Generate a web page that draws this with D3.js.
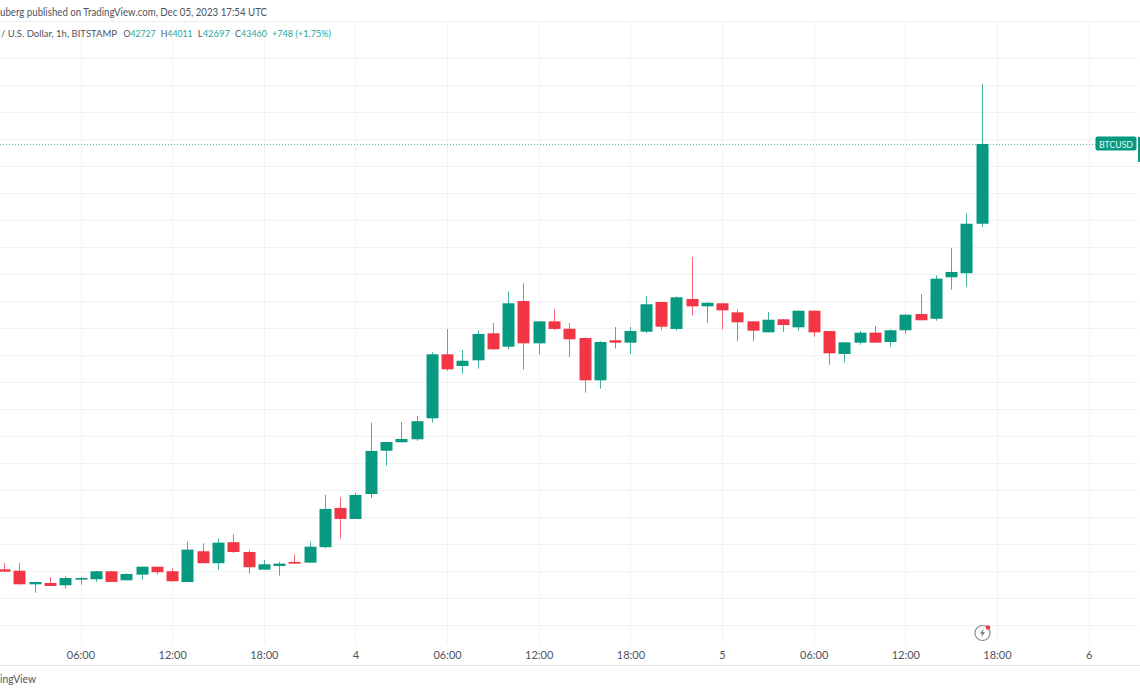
<!DOCTYPE html>
<html>
<head>
<meta charset="utf-8">
<script src="https://cdn.jsdelivr.net/npm/d3@7/dist/d3.min.js"></script>
<style>
html,body{margin:0;padding:0;background:#fff;overflow:hidden}
svg{display:block}
text{font-family:"Lato","Noto Sans",sans-serif}
</style>
</head>
<body>
<svg id="chart" width="1140" height="694"></svg>
<script>
const startTime = "2023-12-03T01:00:00Z";
const opens = [39551,39538,39413,39425,39404,39456,39460,39533,39450,39502,39575,39533,39434,39717,39607,39800,39710,39548,39582,39619,39612,39754,40115,40014,40243,40641,40719,40746,40939,41527,41420,41472,41720,41597,42017,41628,41830,41762,41677,41288,41656,41634,41735,42008,41760,42035,41968,41996,41913,41830,41729,41849,41775,41928,41741,41530,41634,41726,41640,41748,41897,41854,42235,42272,42727];
const highs = [39609,39609,39439,39478,39487,39483,39536,39536,39515,39575,39575,39561,39805,39790,39833,39873,39726,39637,39619,39686,39805,40234,40213,40255,40899,40721,40905,40960,41546,41760,41567,41748,41815,42106,42180,41830,41941,41815,41683,41647,41778,41778,42060,42008,42060,42421,42008,41996,41941,41830,41916,41849,41928,41928,41741,41637,41741,41787,41757,41897,42081,42253,42504,42823,44011];
const lows = [39526,39411,39336,39398,39373,39410,39435,39435,39450,39456,39502,39441,39434,39607,39545,39701,39511,39545,39493,39603,39612,39744,39833,40014,40207,40504,40716,40731,40899,41376,41349,41395,41567,41573,41386,41527,41751,41500,41174,41211,41579,41530,41720,41751,41744,41885,41817,41757,41647,41647,41729,41732,41744,41689,41432,41454,41615,41634,41597,41716,41840,41836,42121,42148,42697];
const closes = [39529,39413,39434,39398,39471,39471,39533,39435,39508,39575,39524,39441,39732,39607,39796,39710,39570,39597,39603,39603,39759,40106,40014,40234,40639,40721,40749,40912,41527,41389,41468,41714,41573,41996,41628,41830,41760,41665,41288,41640,41634,41741,41987,41781,42051,41968,42001,41931,41821,41744,41845,41796,41928,41729,41536,41637,41726,41634,41748,41891,41840,42222,42284,42727,43460];
const timeTicks = ["2023-12-03T06:00:00Z","2023-12-03T12:00:00Z","2023-12-03T18:00:00Z","2023-12-04T00:00:00Z","2023-12-04T06:00:00Z","2023-12-04T12:00:00Z","2023-12-04T18:00:00Z","2023-12-05T00:00:00Z","2023-12-05T06:00:00Z","2023-12-05T12:00:00Z","2023-12-05T18:00:00Z","2023-12-06T00:00:00Z"];
const timeLabels = ["06:00","12:00","18:00","4","06:00","12:00","18:00","5","06:00","12:00","18:00","6"];
const priceGrid = [44248,44000,43752,43504,43256,43008,42760,42512,42264,42016,41768,41520,41272,41024,40776,40528,40280,40032,39784,39536,39288,39040];
const lastClose = 43460;
const headerTop = "uberg published on TradingView.com, Dec 05, 2023 17:54 UTC";
const symbolText = "/ U.S. Dollar, 1h, BITSTAMP";
const ohlcLabels = ["O","H","L","C"];
const ohlcValues = ["42727","44011","42697","43460"];
const changeText = "+748 (+1.75%)";
const brandText = "ingView";

const UP = "#089981", DOWN = "#f23645", GRID = "#f2f4f4", TXT = "#50535e", SOFT = "#26a69a";
const svg = d3.select("#chart");
const times = opens.map((_, i) => d3.utcHour.offset(new Date(startTime), i));

const x = d3.scaleUtc()
  .domain([new Date("2023-12-03T06:00:00Z"), new Date("2023-12-05T18:00:00Z")])
  .range([80.5, 997]);
const y = d3.scaleLinear().domain([44000, 39000]).range([85.25, 629.25]);

const gy = svg.append("g").attr("transform","translate(1138,0)")
  .call(d3.axisLeft(y).tickValues(priceGrid).tickSize(1138).tickFormat(""));
gy.select(".domain").remove();
gy.selectAll("line").attr("stroke",GRID).attr("shape-rendering","crispEdges");

const gx = svg.append("g").attr("transform","translate(0,644)")
  .call(d3.axisTop(x).tickValues(timeTicks.map(d=>new Date(d))).tickSize(622).tickFormat(""));
gx.select(".domain").remove();
gx.selectAll("line").attr("stroke",GRID).attr("shape-rendering","crispEdges");

svg.append("line").attr("x1",0).attr("x2",1140).attr("y1",21.5).attr("y2",21.5).attr("stroke","#eceeef");
svg.append("line").attr("x1",0).attr("x2",1140).attr("y1",665.5).attr("y2",665.5).attr("stroke","#e4e7e9");

svg.append("line").attr("x1",0).attr("x2",1096)
  .attr("y1",Math.round(y(lastClose))+.5).attr("y2",Math.round(y(lastClose))+.5)
  .attr("stroke",UP).attr("stroke-dasharray","1 2").attr("opacity",.65);

const data = times.map((t,i)=>({t,o:opens[i],h:highs[i],l:lows[i],c:closes[i]}));
const col = d => d.c >= d.o ? UP : DOWN;
const candles = svg.append("g").selectAll("g").data(data).join("g");
candles.append("line")
  .attr("x1",d=>Math.round(x(d.t))+.5).attr("x2",d=>Math.round(x(d.t))+.5)
  .attr("y1",d=>y(d.h)).attr("y2",d=>y(d.l))
  .attr("stroke",col).attr("stroke-width",1).attr("opacity",.75);
candles.append("rect")
  .attr("x",d=>Math.round(x(d.t))-5.5).attr("width",12)
  .attr("y",d=>y(Math.max(d.o,d.c))).attr("height",d=>Math.max(1,Math.abs(y(d.o)-y(d.c))))
  .attr("fill",col);

const ax = svg.append("g").attr("transform","translate(0,645)")
  .call(d3.axisBottom(x).tickValues(timeTicks.map(d=>new Date(d))).tickSize(0).tickPadding(6)
    .tickFormat((d,i)=>timeLabels[i]));
ax.select(".domain").remove();
ax.selectAll("text").attr("font-family",'"Lato","Noto Sans",sans-serif').attr("font-size",11).attr("fill",TXT);

svg.append("text").attr("x",0).attr("y",16).attr("font-size",11).attr("fill",TXT).text(headerTop)
  .attr("textLength",267).attr("lengthAdjust","spacingAndGlyphs");
svg.append("text").attr("x",1).attr("y",37).attr("font-size",10).attr("fill",TXT).text(symbolText)
  .attr("textLength",116).attr("lengthAdjust","spacingAndGlyphs");
const ohlcX = d3.scalePoint().domain(ohlcLabels).range([123.5,235]);
ohlcLabels.forEach((k,i)=>{
  const t = svg.append("text").attr("x",ohlcX(k)).attr("y",37).attr("font-size",10).attr("fill",TXT)
    .attr("textLength",32).attr("lengthAdjust","spacingAndGlyphs");
  t.append("tspan").text(k);
  t.append("tspan").attr("fill",SOFT).text(ohlcValues[i]);
});
svg.append("text").attr("x",272).attr("y",37).attr("font-size",10).attr("fill",SOFT).text(changeText)
  .attr("textLength",59).attr("lengthAdjust","spacingAndGlyphs");
svg.append("text").attr("x",0).attr("y",683).attr("font-size",11).attr("fill",TXT).text(brandText)
  .attr("textLength",36).attr("lengthAdjust","spacingAndGlyphs");

svg.append("rect").attr("x",1095.5).attr("y",136.5).attr("width",41).attr("height",14).attr("rx",2).attr("fill",UP);
svg.append("text").attr("x",1099).attr("y",147.5).attr("font-size",10).attr("fill","#e6f5f2").text("BTCUSD")
  .attr("textLength",34).attr("lengthAdjust","spacingAndGlyphs");
svg.append("rect").attr("x",1138).attr("y",137).attr("width",2).attr("height",25).attr("fill",UP);

const ic = svg.append("g").attr("transform","translate(982.5,633)");
ic.append("circle").attr("r",7.5).attr("fill","#fff").attr("stroke","#8a8d96").attr("stroke-width",1.2);
ic.append("path").attr("d","M1.5,-4.5 L-2.5,0.8 L0,0.8 L-1.5,4.5 L2.5,-0.8 L0,-0.8 Z").attr("fill","#6a6d78");
ic.append("circle").attr("cx",5.5).attr("cy",-5.5).attr("r",2.2).attr("fill",DOWN);
</script>
</body>
</html>
